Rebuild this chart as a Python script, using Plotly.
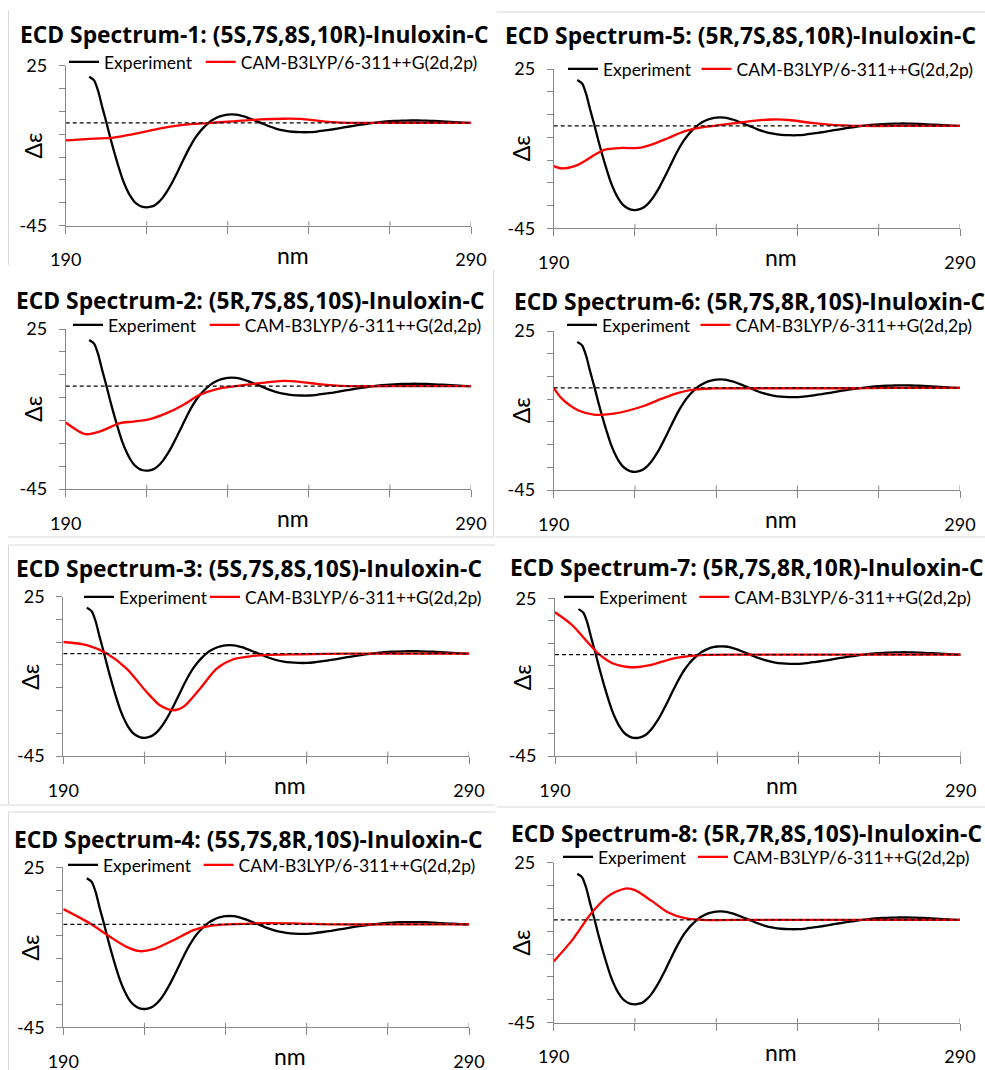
import plotly.graph_objects as go

W, H = 985, 1070

# ---------------- data ----------------
EXP_NM = [195.8, 197, 198, 199, 200, 201, 202, 203, 204, 205, 206, 207, 208, 209, 210, 211,
          212, 213, 214, 215, 216, 217, 218, 219, 220, 221, 222, 223, 224, 225, 226, 227,
          228, 229, 230, 231, 232, 233, 234, 235, 236, 237, 238, 240, 242, 244, 246, 248,
          250, 252, 254, 256, 258, 260, 262, 264, 266, 268, 270, 272, 274, 276, 278, 280,
          282, 284, 286, 288, 290]
EXP_DE = [20.2, 18.6, 14.0, 7.0, 0.5, -6.5, -13.0, -19.0, -24.5, -28.8, -32.2, -34.6, -36.0,
          -36.8, -37.0, -36.7, -36.0, -34.6, -32.6, -30.0, -27.0, -23.6, -20.0, -16.3, -12.7,
          -9.4, -6.5, -4.1, -2.1, -0.4, 1.0, 2.0, 2.8, 3.3, 3.6, 3.7, 3.6, 3.3, 2.8, 2.2, 1.5,
          0.8, 0.1, -1.4, -2.6, -3.4, -3.9, -4.1, -4.1, -3.8, -3.3, -2.8, -2.2, -1.6, -1.0,
          -0.5, 0.0, 0.4, 0.7, 0.9, 1.0, 1.05, 1.0, 0.9, 0.7, 0.5, 0.3, 0.1, 0.0]

CALC_NM = {
    1: [190, 195, 201, 204, 207, 211, 215, 219, 225, 231, 238, 244, 248, 252, 256, 260, 270, 280, 290],
    2: [190, 194.8, 198.5, 203.4, 206.7, 210.8, 214.9, 219, 223.1, 227.3, 231.4, 237.9, 243.7, 247.8, 251.9, 256, 260, 275, 290],
    3: [190, 195.8, 200.7, 205.6, 210.5, 213.8, 217.1, 219.6, 223.7, 227.8, 231.9, 236, 240.1, 248.3, 260, 275, 290],
    4: [190, 196.6, 201.5, 205.6, 208.9, 212.2, 217.1, 222.1, 226.2, 231.9, 240.1, 248.3, 256.5, 270, 290],
    5: [190, 192, 196.1, 200.2, 202.6, 206.7, 210.8, 214.1, 218.2, 222.3, 226.4, 231.3, 237.1, 243.7, 247.8, 253.5, 257.6, 265.8, 278, 290],
    6: [190, 192, 196.1, 200.2, 204.3, 208.4, 212.5, 216.6, 220.7, 224.8, 228.9, 240, 260, 275, 290],
    7: [190, 194.1, 198.2, 200.7, 204, 208.1, 210.5, 214.7, 218.8, 222.9, 227, 240, 260, 290],
    8: [190, 194.4, 199.4, 203.5, 207.6, 210, 214.1, 218.2, 222.3, 226.4, 240, 260, 290],
}
CALC_DE = {
    1: [-7.7, -7.1, -6.6, -5.8, -4.8, -3.3, -1.9, -0.9, -0.1, 0.6, 1.5, 1.8, 1.7, 1.0, 0.3, 0.0, 0.0, 0.0, 0.0],
    2: [-15.9, -21.0, -19.8, -16.2, -15.5, -14.4, -11.8, -8.2, -3.8, -1.3, -0.1, 1.3, 2.3, 1.9, 1.0, 0.3, 0.0, 0.0, 0.0],
    3: [5.1, 3.7, 0.0, -6.6, -16.8, -22.7, -24.9, -23.4, -15.4, -6.6, -2.5, -1.2, -0.6, -0.3, 0.0, 0.0, 0.0],
    4: [6.7, 0.4, -5.4, -9.8, -11.7, -10.8, -6.9, -2.5, -0.6, 0.1, 0.6, 0.4, 0.0, 0.0, 0.0],
    5: [-17.7, -18.7, -17.0, -12.6, -10.4, -9.7, -9.7, -8.2, -5.3, -2.3, -0.6, 0.4, 1.8, 2.8, 2.6, 1.3, 0.6, 0.0, 0.0, 0.0],
    6: [0.0, -4.8, -10.0, -11.9, -11.5, -10.0, -7.8, -4.8, -2.2, -0.7, -0.3, -0.2, -0.2, 0.0, 0.0],
    7: [18.8, 13.3, 5.2, 0.4, -3.7, -5.5, -5.5, -4.1, -1.9, -0.7, -0.1, 0.0, 0.0, 0.0],
    8: [-18.2, -9.2, 3.2, 10.5, 13.7, 13.0, 8.3, 3.2, 0.7, 0.0, 0.0, 0.0, 0.0],
}
ZERO_NM = [190, 290]
ZERO_DE = [0, 0]

TITLES = {
    1: "ECD Spectrum-1: (5S,7S,8S,10R)-Inuloxin-C",
    2: "ECD Spectrum-2: (5R,7S,8S,10S)-Inuloxin-C",
    3: "ECD Spectrum-3: (5S,7S,8S,10S)-Inuloxin-C",
    4: "ECD Spectrum-4: (5S,7S,8R,10S)-Inuloxin-C",
    5: "ECD Spectrum-5: (5R,7S,8S,10R)-Inuloxin-C",
    6: "ECD Spectrum-6: (5R,7S,8R,10S)-Inuloxin-C",
    7: "ECD Spectrum-7: (5R,7S,8R,10R)-Inuloxin-C",
    8: "ECD Spectrum-8: (5R,7R,8S,10S)-Inuloxin-C",
}
SERIES_NAMES = ["Experiment", "CAM-B3LYP/6-311++G(2d,2p)"]
X_TICKS = [190, 210, 230, 250, 270, 290]
X_TICKTEXT = ["190", "", "", "", "", "290"]
Y_TICKS = [-45, -35, -25, -15, -5, 5, 15, 25]
Y_TICKTEXT = ["-45", "", "", "", "", "", "", "25"]

# ---------------- layout (pixel boxes) ----------------
BOX = {
    1: (65.7, 471.0, 65.7, 225.7),
    5: (553.7, 960.0, 69.0, 228.3),
    2: (65.7, 471.0, 329.0, 489.0),
    6: (553.7, 960.0, 331.0, 490.0),
    3: (63.3, 469.0, 596.7, 756.0),
    7: (555.0, 960.7, 598.3, 756.0),
    4: (63.3, 469.0, 867.3, 1027.3),
    8: (553.7, 960.0, 862.7, 1022.7),
}
TITLE_POS = {1: (254, 34), 5: (740, 36), 2: (250, 300), 6: (749, 301),
             3: (249, 568), 7: (746, 567), 4: (248, 839), 8: (746, 833)}
# (start of "Experiment" text, y centre, width of first entry text slot)
LEG_POS = {1: (104, 62, 91.7), 5: (603, 69, 88.5), 2: (108, 325, 91.7), 6: (602, 325, 88.5),
           3: (119, 597, 81), 7: (599, 597, 90.3), 4: (103, 865, 90.6), 8: (598, 857, 90)}

FONT = "Lato"
TFONT = "Open Sans"
AXC = "#868686"

fig = go.Figure()
annotations = []
shapes = []

for i in range(1, 9):
    xa = "x" if i == 1 else f"x{i}"
    ya = "y" if i == 1 else f"y{i}"
    lg = "legend" if i == 1 else f"legend{i}"
    tx0, ly, ew = LEG_POS[i]
    fig.add_trace(go.Scatter(x=EXP_NM, y=EXP_DE, mode="lines", name=SERIES_NAMES[0],
                             line=dict(color="black", width=2.3, shape="spline", smoothing=0.6),
                             xaxis=xa, yaxis=ya, legend=lg, legendwidth=ew))
    fig.add_trace(go.Scatter(x=CALC_NM[i], y=CALC_DE[i], mode="lines", name=SERIES_NAMES[1],
                             line=dict(color="#ff0000", width=2.3, shape="spline", smoothing=0.8),
                             xaxis=xa, yaxis=ya, legend=lg))
    fig.add_trace(go.Scatter(x=ZERO_NM, y=ZERO_DE, mode="lines", showlegend=False,
                             line=dict(color="black", width=1.3, dash="4px,3px"),
                             xaxis=xa, yaxis=ya, hoverinfo="skip"))

    l, r, t, b = BOX[i]
    xkey = "xaxis" if i == 1 else f"xaxis{i}"
    ykey = "yaxis" if i == 1 else f"yaxis{i}"
    fig.layout[xkey] = dict(domain=[l / W, r / W], anchor=ya, range=[190, 290],
                            automargin=False,
                            tickmode="array", tickvals=X_TICKS, ticktext=X_TICKTEXT,
                            ticks="outside", ticklen=7, tickcolor=AXC, tickwidth=1,
                            showline=True, linecolor=AXC, linewidth=1, showgrid=False,
                            zeroline=False, ticklabelstandoff=11,
                            tickfont=dict(family=FONT, size=18, color="black"))
    fig.layout[ykey] = dict(domain=[1 - b / H, 1 - t / H], anchor=xa, range=[-45, 25],
                            automargin=False,
                            tickmode="array", tickvals=Y_TICKS, ticktext=Y_TICKTEXT,
                            ticks="outside", ticklen=6, tickcolor=AXC, tickwidth=1,
                            showline=True, linecolor=AXC, linewidth=1, showgrid=False,
                            zeroline=False, ticklabelstandoff=8,
                            tickfont=dict(family=FONT, size=18, color="black"))
    for xv in X_TICKS[1:]:
        shapes.append(dict(type="line", xref=xa, yref=f"{ya} domain", x0=xv, x1=xv,
                           y0=0, y1=4.5 / (b - t), line=dict(color=AXC, width=1)))

    fig.layout[lg] = dict(orientation="h", x=(tx0 - 40) / W, y=1 - ly / H, xanchor="left",
                          yanchor="middle", bgcolor="rgba(0,0,0,0)", borderwidth=0,
                          font=dict(family=FONT, size=17.5, color="black"),
                          itemwidth=30, tracegroupgap=0)

    tx, ty = TITLE_POS[i]
    annotations.append(dict(text=TITLES[i], x=tx / W, y=1 - ty / H, xref="paper", yref="paper",
                            xanchor="center", yanchor="middle", showarrow=False,
                            font=dict(family=TFONT, size=22.8, color="black", weight="bold")))
    annotations.append(dict(text="nm", x=(l + 227) / W, y=1 - (b + 29) / H, xref="paper",
                            yref="paper", xanchor="center", yanchor="middle", showarrow=False,
                            font=dict(family=FONT, size=23, color="black")))
    annotations.append(dict(text="Δε", x=(l - 33) / W, y=1 - ((t + b) / 2) / H, xref="paper",
                            yref="paper", xanchor="center", yanchor="middle", showarrow=False,
                            textangle=-90, font=dict(family=FONT, size=23, color="black")))

BORDER = [(8.5, 10, 8.5, 265), (497, 12, 985, 12), (493.5, 270, 493.5, 537),
          (8, 537, 493.5, 537), (495, 537, 985, 537), (8, 545, 495, 545),
          (8.5, 545, 8.5, 805), (0, 805, 495, 805), (8, 812, 495, 812),
          (8.5, 812, 8.5, 1070), (497, 807, 985, 807)]
for x0, y0, x1, y1 in BORDER:
    shapes.append(dict(type="line", xref="paper", yref="paper", x0=x0 / W, x1=x1 / W,
                       y0=1 - y0 / H, y1=1 - y1 / H, line=dict(color="#dadada", width=1)))

fig.update_layout(template="none", width=W, height=H, margin=dict(l=0, r=0, t=0, b=0, pad=0),
                  paper_bgcolor="white", plot_bgcolor="white",
                  annotations=annotations, shapes=shapes, showlegend=True,
                  font=dict(family=FONT, color="black"))

fig.write_html("out.html")
